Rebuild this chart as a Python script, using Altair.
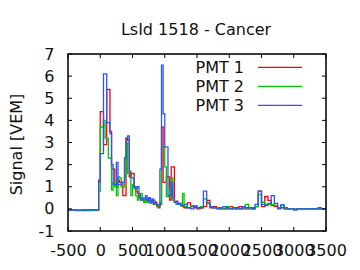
import altair as alt
import pandas as pd

# ---------------- data ----------------
title_text = "LsId 1518 - Cancer"
names = ["PMT 1", "PMT 2", "PMT 3"]
colors = ["#ff0000", "#00c800", "#2a55ff"]

time_ns = [-500, -375, -250, -125, -25,
           0, 25, 50, 75, 100, 125, 150, 175,
           200, 225, 250, 275, 300, 325, 350, 375,
           400, 425, 450, 475, 500, 525, 550, 575,
           600, 625, 650, 675, 700, 725, 750, 775,
           800, 825, 850, 875, 900, 925, 950, 975,
           1000, 1025, 1050, 1075, 1100, 1125, 1150, 1175,
           1200, 1225, 1250, 1275,
           1300, 1350, 1400, 1450, 1500, 1550, 1600, 1650,
           1700, 1750, 1800, 1850, 1900, 1950, 2000, 2050,
           2100, 2150, 2200, 2250, 2300, 2350, 2400, 2450,
           2500, 2550, 2600, 2650, 2700, 2750, 2800, 2850,
           2900, 2950,
           3000, 3050, 3375, 3425, 3500]

pmt1 = [-0.05, -0.08, -0.05, -0.05, 1.3,
        4.4, 4.4, 2.9, 2.9, 5.4, 5.4, 3.5, 1.8,
        1.8, 1.1, 1.0, 1.3, 1.2, 1.2, 0.6, 0.6,
        3.2, 3.1, 1.45, 1.6, 1.6, 1.0, 0.8, 0.7,
        0.5, 0.45, 0.4, 0.3, 0.45, 0.4, 0.5, 0.35,
        0.4, 0.2, 0.3, 0.1, 0.05, 0.2, 3.7, 1.2,
        1.2, 1.45, 1.45, 0.4, 1.9, 1.9, 0.3, 0.35,
        0.2, 0.25, 0.15, 0.1,
        0.05, 0.27, 0.1, 0.05, 0.0, 0.05, 0.1, 0.38,
        0.05, 0.1, 0.05, 0.0, 0.0, 0.05, 0.1, 0.0,
        0.05, 0.1, 0.0, 0.0, 0.05, 0.0, 0.1, 0.8,
        0.1, 0.56, 0.38, 0.15, 0.1, 0.05, 0.05, 0.0,
        0.0, 0.0,
        0.0, 0.0, 0.0, 0.0, 0.0]

pmt2 = [-0.06, -0.05, -0.08, -0.06, 0.8,
        3.7, 3.7, 4.0, 3.2, 3.2, 2.3, 2.3, 0.85,
        1.2, 1.0, 0.6, 1.45, 1.4, 1.0, 1.0, 1.4,
        3.0, 1.6, 1.6, 0.6, 1.1, 0.9, 0.6, 0.4,
        0.6, 0.7, 0.4, 0.3, 0.5, 0.3, 0.35, 0.25,
        0.3, 0.4, 0.2, 0.15, 0.1, 0.3, 2.8, 2.8,
        1.9, 0.55, 0.55, 0.9, 1.4, 0.4, 0.3, 0.2,
        0.2, 0.2, 0.15, 0.7,
        0.1, 0.05, 0.15, 0.15, 0.05, 0.1, 0.45, 0.27,
        0.1, 0.05, 0.05, 0.0, 0.0, 0.1, 0.0, 0.05,
        0.0, 0.0, 0.05, 0.2, 0.0, 0.05, 0.1, 0.64,
        0.3, 0.2, 0.2, 0.2, 0.15, 0.05, 0.18, 0.0,
        0.0, 0.0,
        0.0, 0.0, 0.0, 0.0, 0.0]

pmt3 = [-0.05, -0.06, -0.05, -0.05, 1.2,
        2.5, 2.5, 6.1, 6.1, 3.9, 3.9, 3.4, 2.0,
        1.1, 1.1, 2.1, 1.1, 1.1, 1.2, 1.2, 2.3,
        3.2, 3.3, 1.7, 1.4, 1.4, 1.0, 0.9, 1.0,
        0.6, 0.4, 0.5, 0.45, 0.6, 0.35, 0.5, 0.3,
        0.45, 0.3, 0.25, 0.2, 0.15, 1.8, 6.5, 4.3,
        2.8, 2.8, 0.6, 0.6, 1.2, 0.5, 0.3, 0.3,
        0.2, 0.25, 0.15, 0.15,
        0.2, 0.05, 0.0, 0.1, 0.05, 0.05, 0.8, 0.25,
        0.1, 0.05, 0.0, 0.05, 0.1, 0.0, 0.0, 0.05,
        0.0, 0.0, 0.1, 0.05, 0.05, 0.0, 0.2, 0.8,
        0.2, 0.15, 0.25, 0.6, 0.25, 0.0, 0.18, 0.05,
        0.0, 0.0,
        -0.06, 0.0, 0.05, 0.0, 0.0]

x_ticks = [-500, 0, 500, 1000, 1500, 2000, 2500, 3000, 3500]
y_ticks = [-1, 0, 1, 2, 3, 4, 5, 6, 7]

# ---------------- tables ----------------
rows = []
for name, vals in zip(names, [pmt1, pmt2, pmt3]):
    for t, v in zip(time_ns, vals):
        rows.append({"t": t, "v": v, "series": name})
df = pd.DataFrame(rows)
xt = pd.DataFrame({"t": x_ticks})
yt = pd.DataFrame({"v": y_ticks})

W, H = 258, 177
FONT = "DejaVu Sans"

xscale = alt.Scale(domain=[-500, 3500], nice=False, zero=False)
yscale = alt.Scale(domain=[-1, 7], nice=False, zero=False)

xaxis = alt.Axis(values=x_ticks, title=None, grid=False, domain=False, ticks=False,
                 labelFont=FONT, labelFontSize=16, labelColor="#111111",
                 labelOverlap=False, labelFlush=False, labelPadding=11,
                 labelExpr="'' + datum.value")
yaxis = alt.Axis(values=y_ticks, title="Signal [VEM]", grid=False, domain=False, ticks=False,
                 labelFont=FONT, labelFontSize=16, labelColor="#111111",
                 labelOverlap=False, labelFlush=False, labelPadding=14,
                 labelExpr="'' + datum.value",
                 titleFont=FONT, titleFontSize=16, titleFontWeight="normal",
                 titleColor="#111111", titleAngle=270, titleBaseline="alphabetic",
                 titleAlign="center", titleX=-47, titleY=90)

X = alt.X("t:Q", scale=xscale, axis=xaxis)
Y = alt.Y("v:Q", scale=yscale, axis=yaxis)

lines = alt.Chart(df).mark_line(interpolate="step-after", strokeWidth=1.3).encode(
    x=X, y=Y,
    color=alt.Color("series:N", scale=alt.Scale(domain=names, range=colors), legend=None),
    detail="series:N",
)

tick_len = 4
xt_bot = alt.Chart(xt).mark_rule(color="black", strokeWidth=1).encode(
    x=X, y=alt.value(H), y2=alt.value(H - tick_len))
xt_top = alt.Chart(xt).mark_rule(color="black", strokeWidth=1).encode(
    x=X, y=alt.value(0), y2=alt.value(tick_len))
yt_left = alt.Chart(yt).mark_rule(color="black", strokeWidth=1).encode(
    y=Y, x=alt.value(0), x2=alt.value(tick_len))
yt_right = alt.Chart(yt).mark_rule(color="black", strokeWidth=1).encode(
    y=Y, x=alt.value(W), x2=alt.value(W - tick_len))

# plot frame
frame = alt.Chart(pd.DataFrame({"label": ["frame"]})).mark_rect(
    fill=None, stroke="black", strokeWidth=1.5
).encode(x=alt.value(0), x2=alt.value(W), y=alt.value(0), y2=alt.value(H))

# chart title as text
title = alt.Chart(pd.DataFrame({"label": [title_text]})).mark_text(
    align="center", baseline="alphabetic", font=FONT, fontSize=16, color="#111111"
).encode(text="label:N", x=alt.value(W / 2 - 1), y=alt.value(-19))

legend_layers = []
for i, (name, col) in enumerate(zip(names, colors)):
    ly = 19.3 + 19 * i
    legend_layers.append(
        alt.Chart(pd.DataFrame({"label": [name]})).mark_text(
            align="right", baseline="alphabetic", font=FONT, fontSize=16, color="#111111"
        ).encode(text="label:N", x=alt.value(176), y=alt.value(ly))
    )
    legend_layers.append(
        alt.Chart(pd.DataFrame({"label": [name]})).mark_rule(color=col, strokeWidth=1.3).encode(
            x=alt.value(190), x2=alt.value(234), y=alt.value(ly - 6))
    )

chart = alt.layer(lines, xt_bot, xt_top, yt_left, yt_right, frame, title, *legend_layers).properties(
    width=W, height=H,
    autosize=alt.AutoSizeParams(type="none"),
    padding={"left": 68, "top": 54, "right": 34, "bottom": 39},
).configure_view(stroke=None).configure_axis(labelOverlap=False).configure(background="white")

chart.save("out.html", embed_options={"renderer": "svg", "actions": False})
